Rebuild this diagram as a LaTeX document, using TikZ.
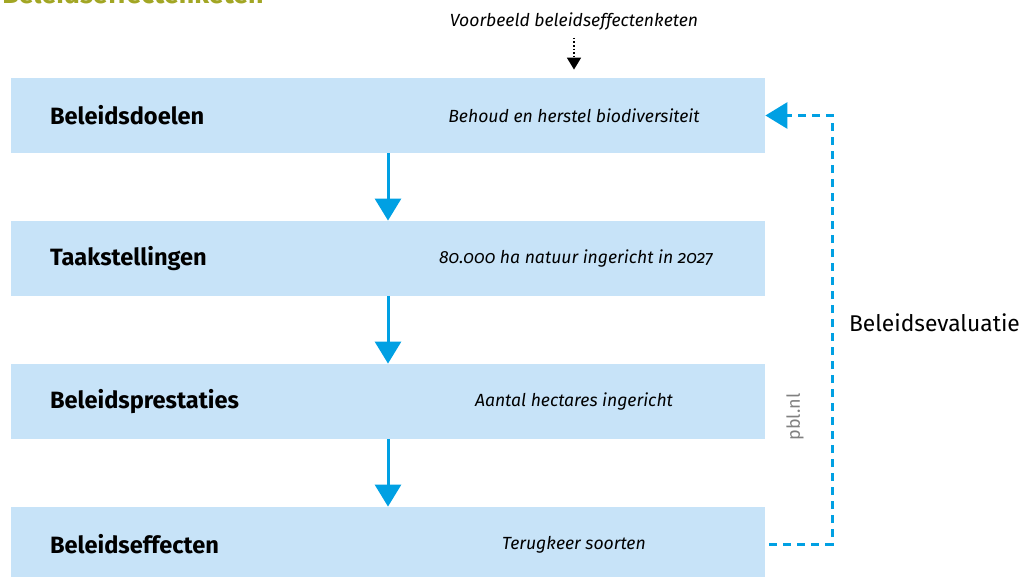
\documentclass[tikz,border=0pt]{standalone}
\usepackage{fontspec}
\setmainfont{Fira Sans}[Numbers=OldStyle]
\usetikzlibrary{arrows.meta}
\definecolor{boxblue}{HTML}{C7E3F8}
\definecolor{pijlblue}{HTML}{00A0E3}
\definecolor{olijf}{HTML}{A2A624}
\tikzset{
  ketenbox/.style = {fill = boxblue, minimum width = 377pt, minimum height = 37.5pt, inner sep = 0pt},
  naam/.style = {anchor = west, font = \bfseries\fontsize{11.8}{14}\selectfont},
  voorbeeld/.style = {font = \itshape\fontsize{8.8}{10}\selectfont},
  stap/.style = {pijlblue, line width = 1.5pt, -{Triangle[width = 13pt, length = 11pt]}},
  terug/.style = {pijlblue, line width = 1.5pt, dash pattern = on 4pt off 3pt, -{Triangle[width = 13pt, length = 11pt]}}
}

\begin{document}
\begin{tikzpicture}[x = 0.5pt, y = -0.5pt]

			\useasboundingbox (0, 0) rectangle (1023, 577);
			\clip (0, 0) rectangle (1023, 577);

			% titel, bovenaan afgesneden
			\node[anchor = base west, olijf, font = \bfseries\fontsize{13.4}{15}\selectfont, inner sep = 0pt] (titel) at (2, 4) {Beleidseffectenketen};

			% de vier stappen
			\node[ketenbox] (doelen) at (388, 115.5) {};
			\node[ketenbox] (taak) at (388, 258.5) {};
			\node[ketenbox] (prestaties) at (388, 401.5) {};
			\node[ketenbox] (effecten) at (388, 544.5) {};

			\node[naam] (ndoelen) at (43, 115.5) {Beleidsdoelen};
			\node[naam] (ntaak) at (43, 258.5) {Taakstellingen};
			\node[naam] (nprestaties) at (43, 401.5) {Beleidsprestaties};
			\node[naam] (neffecten) at (43, 544.5) {Beleidseffecten};

			\node[voorbeeld] (vdoelen) at (574, 116) {Behoud en herstel biodiversiteit};
			\node[voorbeeld] (vtaak) at (576, 259) {80.000 ha natuur ingericht in 2027};
			\node[voorbeeld] (vprestaties) at (574, 402) {Aantal hectares ingericht};
			\node[voorbeeld] (veffecten) at (574, 545) {Terugkeer soorten};

			\node[voorbeeld] (kop) at (574, 22) {Voorbeeld beleidseffectenketen};
			\draw[densely dotted, line width = 0.8pt, -{Triangle[width = 7pt, length = 6pt]}, shorten > = 4pt] (kop.south) -- (kop.south |- doelen.north);

			% pijlen tussen de stappen
			\draw[stap] (doelen) -- (taak);
			\draw[stap] (taak) -- (prestaties);
			\draw[stap] (prestaties) -- (effecten);

			% terugkoppeling
			\coordinate (hoek) at (832, 544.5);
			\draw[terug] ([xshift = 2pt]effecten.east) -- (hoek) |- (doelen.east);
			\node[anchor = west, font = \fontsize{11.4}{13}\selectfont] (evaluatie) at (842, 323) {Beleidsevaluatie};

			\node[rotate = 90, gray, font = \fontsize{9}{10}\selectfont] (pbl) at (795, 417) {pbl.nl};

		\end{tikzpicture}
\end{document}
